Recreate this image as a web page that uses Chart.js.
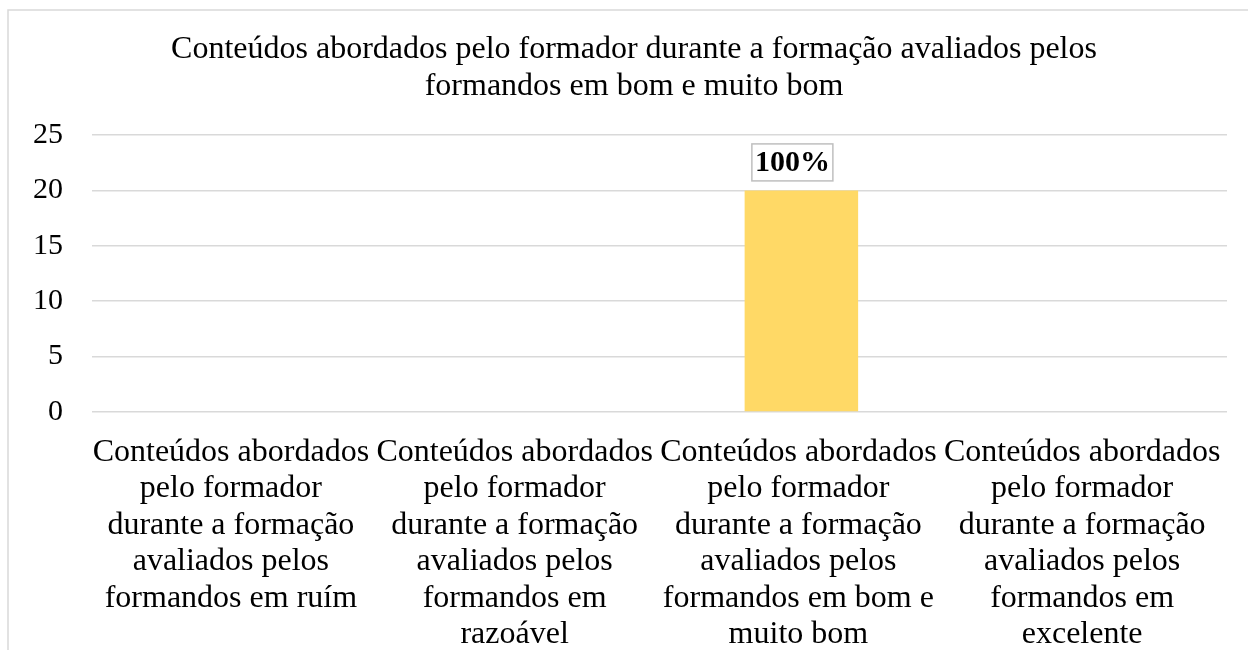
<!DOCTYPE html>
<html>
<head>
<meta charset="utf-8">
<script src="https://cdn.jsdelivr.net/npm/chart.js@4"></script>
<style>
html,body{margin:0;padding:0;background:#fff;}
#wrap{width:1248px;height:650px;position:relative;}
</style>
</head>
<body>
<div id="wrap"><canvas id="c" width="1248" height="650"></canvas></div>
<script>
const titleLines = ["Conteúdos abordados pelo formador durante a formação avaliados pelos", "formandos em bom e muito bom"];
const categories = [
  ["Conteúdos abordados","pelo formador","durante a formação","avaliados pelos","formandos em ruím"],
  ["Conteúdos abordados","pelo formador","durante a formação","avaliados pelos","formandos em","razoável"],
  ["Conteúdos abordados","pelo formador","durante a formação","avaliados pelos","formandos em bom e","muito bom"],
  ["Conteúdos abordados","pelo formador","durante a formação","avaliados pelos","formandos em","excelente"]
];
const values = [0, 0, 20, 0];
const valueLabels = [null, null, "100%", null];
const yTicks = [0, 5, 10, 15, 20, 25];

const FONT = "'Liberation Serif','Times New Roman',serif";

const frame = {
  id: 'frame',
  beforeDraw(chart) {
    const ctx = chart.ctx;
    ctx.save();
    ctx.fillStyle = '#fff';
    ctx.fillRect(0, 0, chart.width, chart.height);
    ctx.strokeStyle = '#d9d9d9';
    ctx.lineWidth = 1.5;
    ctx.strokeRect(8, 10, 1400, 1000);
    ctx.restore();
  },
  afterDraw(chart) {
    const ctx = chart.ctx;
    ctx.save();
    ctx.font = "32px " + FONT;
    ctx.fillStyle = '#000';
    ctx.textAlign = 'center';
    ctx.textBaseline = 'middle';
    titleLines.forEach((t, i) => ctx.fillText(t, 634, 50 + i * 37));
    ctx.restore();
  }
};

const dataLabels = {
  id: 'dataLabels',
  afterDatasetsDraw(chart) {
    const ctx = chart.ctx;
    const meta = chart.getDatasetMeta(0);
    ctx.save();
    ctx.font = "bold 30px " + FONT;
    ctx.textAlign = 'center';
    ctx.textBaseline = 'middle';
    meta.data.forEach((bar, i) => {
      const txt = valueLabels[i];
      if (!txt) return;
      const cx = bar.x - 9, cy = bar.y - 28;
      const w = ctx.measureText(txt).width + 6, h = 37;
      ctx.fillStyle = '#fff';
      ctx.fillRect(cx - w/2, cy - h/2, w, h);
      ctx.strokeStyle = '#bfbfbf';
      ctx.lineWidth = 1.5;
      ctx.strokeRect(cx - w/2, cy - h/2, w, h);
      ctx.fillStyle = '#000';
      ctx.fillText(txt, cx, cy + 1);
    });
    ctx.restore();
  }
};

new Chart(document.getElementById('c'), {
  type: 'bar',
  data: {
    labels: categories,
    datasets: [{
      data: values,
      backgroundColor: '#ffd966',
      borderWidth: 0,
      barPercentage: 0.4,
      categoryPercentage: 1.0
    }]
  },
  options: {
    responsive: false,
    animation: false,
    devicePixelRatio: 1,
    layout: { padding: { left: 0, right: 21, top: 135, bottom: 0 } },
    plugins: {
      legend: { display: false },
      tooltip: { enabled: false },
      title: { display: false }
    },
    scales: {
      x: {
        grid: { display: false, drawTicks: false },
        border: { display: false },
        ticks: {
          color: '#000',
          font: { family: FONT, size: 32, lineHeight: 1.14 },
          maxRotation: 0, minRotation: 0, autoSkip: false,
          padding: 22,
          labelOffset: -3
        },
        afterFit(scale) { scale.height = 238; }
      },
      y: {
        min: 0, max: 25,
        afterBuildTicks(scale) { scale.ticks = yTicks.map(v => ({ value: v })); },
        grid: { color: '#d9d9d9', lineWidth: 1.5, drawTicks: false },
        border: { display: false },
        ticks: {
          color: '#000',
          font: { family: FONT, size: 30 },
          padding: 29
        },
        afterFit(scale) { scale.width = 92; }
      }
    }
  },
  plugins: [frame, dataLabels]
});
</script>
</body>
</html>
